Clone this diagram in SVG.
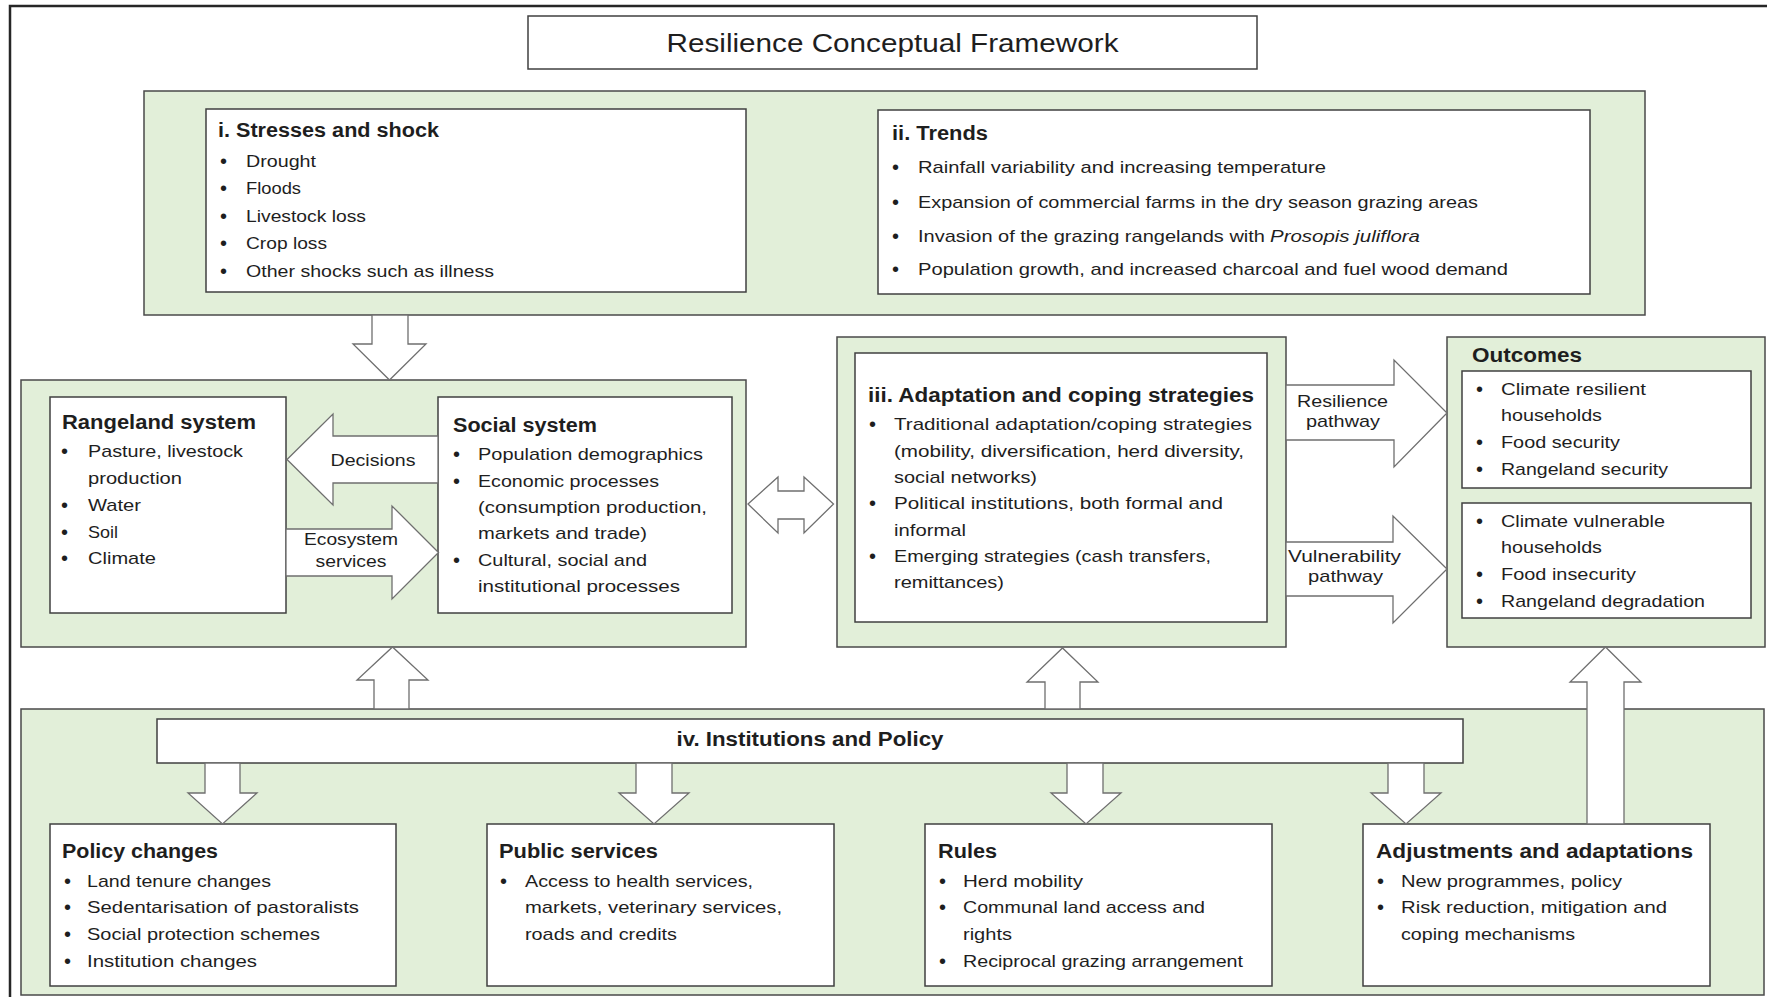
<svg xmlns="http://www.w3.org/2000/svg" width="1767" height="997" viewBox="0 0 1767 997">
<style>
.bg{fill:#ffffff}
.frame{fill:none;stroke:#262626;stroke-width:2.5}
.grp{fill:#e2efd9;stroke:#4a4a4a;stroke-width:1.5}
.box{fill:#ffffff;stroke:#404040;stroke-width:1.5}
.arr{fill:#ffffff;stroke:#6f6f6f;stroke-width:1.3;stroke-linejoin:miter}
text{font-family:"Liberation Sans",Arial,sans-serif;fill:#1e1e1e}
.t{font-size:17px}
.b text,text.b{font-size:20px}
.h{font-size:20px;font-weight:bold}
.ttl{font-size:25px}
.c{text-anchor:middle}
.i{font-style:italic}
</style>
<rect class="bg" x="0" y="0" width="1767" height="997"/>
<rect class="frame" x="10" y="6" width="1775" height="1005"/>

<g id="title">
<rect class="box" x="528" y="16" width="729" height="53"/>
<text class="ttl c" x="892.5" y="52" textLength="452" lengthAdjust="spacingAndGlyphs">Resilience Conceptual Framework</text>
</g>

<g id="top-group">
<rect class="grp" x="144" y="91" width="1501" height="224"/>
</g>

<g id="stresses">
<rect class="box" x="206" y="109" width="540" height="183"/>
<text class="h" x="218" y="137" textLength="221" lengthAdjust="spacingAndGlyphs">i. Stresses and shock</text>
<text class="b" x="220" y="168">•</text><text class="t" x="246" y="167" textLength="70" lengthAdjust="spacingAndGlyphs">Drought</text>
<text class="b" x="220" y="195">•</text><text class="t" x="246" y="194" textLength="55" lengthAdjust="spacingAndGlyphs">Floods</text>
<text class="b" x="220" y="223">•</text><text class="t" x="246" y="222" textLength="120" lengthAdjust="spacingAndGlyphs">Livestock loss</text>
<text class="b" x="220" y="250">•</text><text class="t" x="246" y="249" textLength="81" lengthAdjust="spacingAndGlyphs">Crop loss</text>
<text class="b" x="220" y="278">•</text><text class="t" x="246" y="277" textLength="248" lengthAdjust="spacingAndGlyphs">Other shocks such as illness</text>
</g>

<g id="trends">
<rect class="box" x="878" y="110" width="712" height="184"/>
<text class="h" x="892" y="140" textLength="96" lengthAdjust="spacingAndGlyphs">ii. Trends</text>
<text class="b" x="892" y="174">•</text><text class="t" x="918" y="173" textLength="408" lengthAdjust="spacingAndGlyphs">Rainfall variability and increasing temperature</text>
<text class="b" x="892" y="209">•</text><text class="t" x="918" y="208" textLength="560" lengthAdjust="spacingAndGlyphs">Expansion of commercial farms in the dry season grazing areas</text>
<text class="b" x="892" y="243">•</text><text class="t" x="918" y="242" textLength="347" lengthAdjust="spacingAndGlyphs">Invasion of the grazing rangelands with</text><text class="t i" x="1270" y="242" textLength="150" lengthAdjust="spacingAndGlyphs">Prosopis juliflora</text>
<text class="b" x="892" y="276">•</text><text class="t" x="918" y="275" textLength="590" lengthAdjust="spacingAndGlyphs">Population growth, and increased charcoal and fuel wood demand</text>
</g>

<g id="system-group">
<rect class="grp" x="21" y="380" width="725" height="267"/>
</g>

<g id="rangeland">
<rect class="box" x="50" y="397" width="236" height="216"/>
<text class="h" x="62" y="429" textLength="194" lengthAdjust="spacingAndGlyphs">Rangeland system</text>
<text class="b" x="61" y="458">•</text><text class="t" x="88" y="457" textLength="155" lengthAdjust="spacingAndGlyphs">Pasture, livestock</text>
<text class="t" x="88" y="484" textLength="94" lengthAdjust="spacingAndGlyphs">production</text>
<text class="b" x="61" y="512">•</text><text class="t" x="88" y="511" textLength="53" lengthAdjust="spacingAndGlyphs">Water</text>
<text class="b" x="61" y="539">•</text><text class="t" x="88" y="538" textLength="30" lengthAdjust="spacingAndGlyphs">Soil</text>
<text class="b" x="61" y="565">•</text><text class="t" x="88" y="564" textLength="68" lengthAdjust="spacingAndGlyphs">Climate</text>
</g>

<g id="social">
<rect class="box" x="438" y="397" width="294" height="216"/>
<text class="h" x="453" y="432" textLength="144" lengthAdjust="spacingAndGlyphs">Social system</text>
<text class="b" x="453" y="461">•</text><text class="t" x="478" y="460" textLength="225" lengthAdjust="spacingAndGlyphs">Population demographics</text>
<text class="b" x="453" y="488">•</text><text class="t" x="478" y="487" textLength="181" lengthAdjust="spacingAndGlyphs">Economic processes</text>
<text class="t" x="478" y="513" textLength="229" lengthAdjust="spacingAndGlyphs">(consumption production,</text>
<text class="t" x="478" y="539" textLength="169" lengthAdjust="spacingAndGlyphs">markets and trade)</text>
<text class="b" x="453" y="567">•</text><text class="t" x="478" y="566" textLength="169" lengthAdjust="spacingAndGlyphs">Cultural, social and</text>
<text class="t" x="478" y="592" textLength="202" lengthAdjust="spacingAndGlyphs">institutional processes</text>
</g>

<g id="adaptation">
<rect class="grp" x="837" y="337" width="449" height="310"/>
<rect class="box" x="855" y="353" width="412" height="269"/>
<text class="h" x="868" y="402" textLength="386" lengthAdjust="spacingAndGlyphs">iii. Adaptation and coping strategies</text>
<text class="b" x="869" y="431">•</text><text class="t" x="894" y="430" textLength="358" lengthAdjust="spacingAndGlyphs">Traditional adaptation/coping strategies</text>
<text class="t" x="894" y="457" textLength="350" lengthAdjust="spacingAndGlyphs">(mobility, diversification, herd diversity,</text>
<text class="t" x="894" y="483" textLength="143" lengthAdjust="spacingAndGlyphs">social networks)</text>
<text class="b" x="869" y="510">•</text><text class="t" x="894" y="509" textLength="329" lengthAdjust="spacingAndGlyphs">Political institutions, both formal and</text>
<text class="t" x="894" y="536" textLength="72" lengthAdjust="spacingAndGlyphs">informal</text>
<text class="b" x="869" y="563">•</text><text class="t" x="894" y="562" textLength="317" lengthAdjust="spacingAndGlyphs">Emerging strategies (cash transfers,</text>
<text class="t" x="894" y="588" textLength="110" lengthAdjust="spacingAndGlyphs">remittances)</text>
</g>

<g id="outcomes">
<rect class="grp" x="1447" y="337" width="318" height="310"/>
<text class="h" x="1472" y="362" textLength="110" lengthAdjust="spacingAndGlyphs">Outcomes</text>
<rect class="box" x="1462" y="371" width="289" height="117"/>
<text class="b" x="1476" y="396">•</text><text class="t" x="1501" y="395" textLength="145" lengthAdjust="spacingAndGlyphs">Climate resilient</text>
<text class="t" x="1501" y="421" textLength="101" lengthAdjust="spacingAndGlyphs">households</text>
<text class="b" x="1476" y="449">•</text><text class="t" x="1501" y="448" textLength="119" lengthAdjust="spacingAndGlyphs">Food security</text>
<text class="b" x="1476" y="476">•</text><text class="t" x="1501" y="475" textLength="167" lengthAdjust="spacingAndGlyphs">Rangeland security</text>
<rect class="box" x="1462" y="503" width="289" height="115"/>
<text class="b" x="1476" y="528">•</text><text class="t" x="1501" y="527" textLength="164" lengthAdjust="spacingAndGlyphs">Climate vulnerable</text>
<text class="t" x="1501" y="553" textLength="101" lengthAdjust="spacingAndGlyphs">households</text>
<text class="b" x="1476" y="581">•</text><text class="t" x="1501" y="580" textLength="135" lengthAdjust="spacingAndGlyphs">Food insecurity</text>
<text class="b" x="1476" y="608">•</text><text class="t" x="1501" y="607" textLength="204" lengthAdjust="spacingAndGlyphs">Rangeland degradation</text>
</g>

<g id="institutions-group">
<rect class="grp" x="21" y="709" width="1743" height="286"/>
</g>

<g id="institutions">
<rect class="box" x="157" y="719" width="1306" height="44"/>
<text class="h c" x="810" y="746" textLength="267" lengthAdjust="spacingAndGlyphs">iv. Institutions and Policy</text>
</g>

<g id="policy-changes">
<rect class="box" x="50" y="824" width="346" height="162"/>
<text class="h" x="62" y="858" textLength="156" lengthAdjust="spacingAndGlyphs">Policy changes</text>
<text class="b" x="64" y="888">•</text><text class="t" x="87" y="887" textLength="184" lengthAdjust="spacingAndGlyphs">Land tenure changes</text>
<text class="b" x="64" y="914">•</text><text class="t" x="87" y="913" textLength="272" lengthAdjust="spacingAndGlyphs">Sedentarisation of pastoralists</text>
<text class="b" x="64" y="941">•</text><text class="t" x="87" y="940" textLength="233" lengthAdjust="spacingAndGlyphs">Social protection schemes</text>
<text class="b" x="64" y="968">•</text><text class="t" x="87" y="967" textLength="170" lengthAdjust="spacingAndGlyphs">Institution changes</text>
</g>

<g id="public-services">
<rect class="box" x="487" y="824" width="347" height="162"/>
<text class="h" x="499" y="858" textLength="159" lengthAdjust="spacingAndGlyphs">Public services</text>
<text class="b" x="500" y="888">•</text><text class="t" x="525" y="887" textLength="228" lengthAdjust="spacingAndGlyphs">Access to health services,</text>
<text class="t" x="525" y="913" textLength="257" lengthAdjust="spacingAndGlyphs">markets, veterinary services,</text>
<text class="t" x="525" y="940" textLength="152" lengthAdjust="spacingAndGlyphs">roads and credits</text>
</g>

<g id="rules">
<rect class="box" x="925" y="824" width="347" height="162"/>
<text class="h" x="938" y="858" textLength="59" lengthAdjust="spacingAndGlyphs">Rules</text>
<text class="b" x="939" y="888">•</text><text class="t" x="963" y="887" textLength="120" lengthAdjust="spacingAndGlyphs">Herd mobility</text>
<text class="b" x="939" y="914">•</text><text class="t" x="963" y="913" textLength="242" lengthAdjust="spacingAndGlyphs">Communal land access and</text>
<text class="t" x="963" y="940" textLength="49" lengthAdjust="spacingAndGlyphs">rights</text>
<text class="b" x="939" y="968">•</text><text class="t" x="963" y="967" textLength="280" lengthAdjust="spacingAndGlyphs">Reciprocal grazing arrangement</text>
</g>

<g id="adjustments">
<rect class="box" x="1363" y="824" width="347" height="162"/>
<text class="h" x="1376" y="858" textLength="317" lengthAdjust="spacingAndGlyphs">Adjustments and adaptations</text>
<text class="b" x="1377" y="888">•</text><text class="t" x="1401" y="887" textLength="221" lengthAdjust="spacingAndGlyphs">New programmes, policy</text>
<text class="b" x="1377" y="914">•</text><text class="t" x="1401" y="913" textLength="266" lengthAdjust="spacingAndGlyphs">Risk reduction, mitigation and</text>
<text class="t" x="1401" y="940" textLength="174" lengthAdjust="spacingAndGlyphs">coping mechanisms</text>
</g>

<g id="connectors">
<polygon class="arr" points="372,315 408,315 408,344 426,344 389.5,380 353,344 372,344"/>
<polygon class="arr" points="438,436 333,436 333,414 287,459.5 333,505 333,483 438,483"/>
<text class="t c" x="373" y="466" textLength="85" lengthAdjust="spacingAndGlyphs">Decisions</text>
<polygon class="arr" points="286,529 392,529 392,506 438.5,552.5 392,599 392,576 286,576"/>
<text class="t c" x="351" y="545" textLength="94" lengthAdjust="spacingAndGlyphs">Ecosystem</text>
<text class="t c" x="351" y="567" textLength="71" lengthAdjust="spacingAndGlyphs">services</text>
<polygon class="arr" points="748,504 778,477 778,491 804,491 804,477 833.5,504 804,533 804,519 778,519 778,533"/>
<polygon class="arr" points="1286,385 1394,385 1394,360 1447,413 1394,467 1394,440 1286,440"/>
<text class="t c" x="1342.5" y="407" textLength="91" lengthAdjust="spacingAndGlyphs">Resilience</text>
<text class="t c" x="1343" y="427" textLength="74" lengthAdjust="spacingAndGlyphs">pathway</text>
<polygon class="arr" points="1286,542 1393,542 1393,516 1447,569 1393,623 1393,596 1286,596"/>
<text class="t c" x="1344.5" y="562" textLength="113" lengthAdjust="spacingAndGlyphs">Vulnerability</text>
<text class="t c" x="1345.5" y="582" textLength="75" lengthAdjust="spacingAndGlyphs">pathway</text>
<polygon class="arr" points="374,709 374,680 357,680 392.5,647 428,680 409,680 409,709"/>
<polygon class="arr" points="1045,709 1045,682 1027,682 1062.5,648 1098,682 1080,682 1080,709"/>
<polygon class="arr" points="1587,824 1587,682 1570,682 1605.5,647 1641,682 1624,682 1624,824"/>
<polygon class="arr" points="205,763 205,793 188,793 222.5,824 257,793 240,793 240,763"/>
<polygon class="arr" points="636,763 636,793 619,793 654,824 689,793 672,793 672,763"/>
<polygon class="arr" points="1067,763 1067,793 1051,793 1086,824 1121,793 1103,793 1103,763"/>
<polygon class="arr" points="1388,763 1388,793 1371,793 1406,824 1441,793 1424,793 1424,763"/>
</g>
</svg>
